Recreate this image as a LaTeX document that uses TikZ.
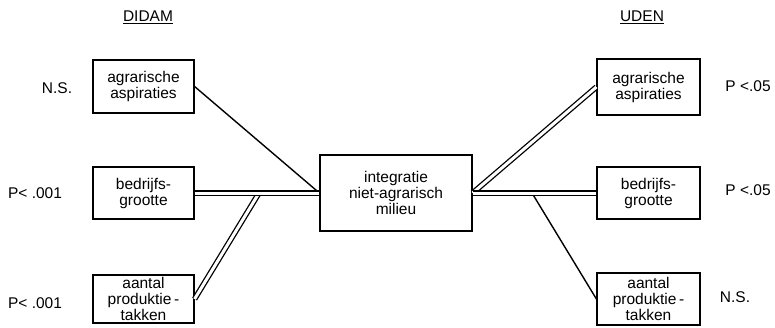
\documentclass[tikz,border=0pt]{standalone}
\usepackage{fontspec}
\setmainfont{Liberation Sans}

\begin{document}
\begin{tikzpicture}[x=1pt,y=-1pt,
  box/.style={draw,line width=1.2pt,align=center,inner sep=0pt,
    font=\fontsize{15.5}{16}\selectfont},
  lab/.style={font=\fontsize{15.5}{16}\selectfont},
  dbl/.style={double,line width=1.3pt,double distance=3pt},
  sgl/.style={line width=1.4pt}]
  \useasboundingbox (0,0) rectangle (775,327);
  % headings
  \node[lab] (hdidam) at (148,17) {\underline{DIDAM}};
  \node[lab] (huden)  at (642,17) {\underline{UDEN}};
  % left column
  \node[box,minimum width=101pt,minimum height=53pt] (lagr)  at (143.5, 86.5) {agrarische\\aspiraties};
  \node[box,minimum width=101pt,minimum height=52pt] (lbed)  at (143.5,193.0) {bedrijfs-\\grootte};
  \node[box,minimum width=101pt,minimum height=48pt] (lprod) at (143.5,299.0) {aantal\\produktie\,-\\takken};
  % centre
  \node[box,minimum width=152pt,minimum height=76pt] (mid)   at (396.0,193.0) {integratie\\niet-agrarisch\\milieu};
  % right column
  \node[box,minimum width=103pt,minimum height=56pt] (ragr)  at (648.5, 87.0) {agrarische\\aspiraties};
  \node[box,minimum width=103pt,minimum height=52pt] (rbed)  at (648.5,193.0) {bedrijfs-\\grootte};
  \node[box,minimum width=103pt,minimum height=52pt] (rprod) at (648.5,299.0) {aantal\\produktie\,-\\takken};
  % significance
  \node[lab] (lagrp)  at ( 57, 88) {N.S.};
  \node[lab] (lbedp)  at ( 35,193) {P< .001};
  \node[lab] (lprodp) at ( 35,303) {P< .001};
  \node[lab] (ragrp)  at (748, 86) {P <.05};
  \node[lab] (rbedp)  at (748,190) {P <.05};
  \node[lab] (rprodp) at (735,297) {N.S.};
  % connectors
  \coordinate (lj) at (259,193);
  \coordinate (rj) at (532,193);
  \draw[sgl] (lagr.east) -- (mid.west);
  \draw[dbl] (lprod.east) -- (lj);
  \draw[dbl] (lbed.east) -- (mid.west);
  \draw[sgl] (rj) -- (rprod.west);
  \draw[dbl] (mid.east) -- (ragr.west);
  \draw[dbl] (mid.east) -- (rbed.west);
\end{tikzpicture}
\end{document}
